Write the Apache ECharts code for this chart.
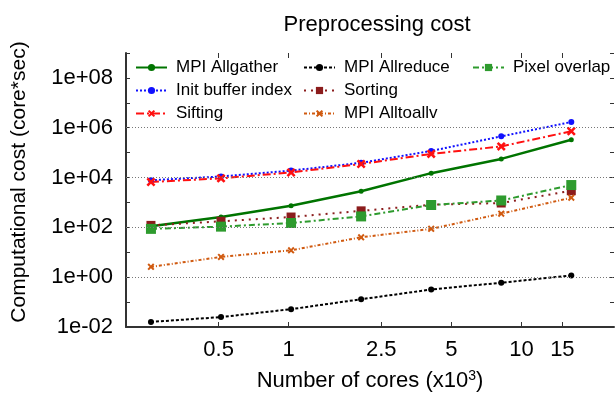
<!DOCTYPE html>
<html>
<head>
<meta charset="utf-8">
<script src="https://cdn.jsdelivr.net/npm/echarts@6/dist/echarts.min.js"></script>
<style>
  html, body { margin: 0; padding: 0; background: #fff; }
  #chart { width: 616px; height: 399px; }
</style>
</head>
<body>
<div id="chart"></div>
<script>
// number of cores (x10^3)
var cores = [0.256, 0.512, 1.024, 2.048, 4.096, 8.192, 16.384]

// cost in core*sec
var mpiAllgather = [110, 260, 740, 2800, 15000, 56000, 330000]
var initBufferIndex = [7800, 11000, 19000, 39000, 117000, 450000, 1700000]
var sifting = [6600, 9300, 16000, 35000, 89000, 178000, 720000]
var mpiAllreduce = [0.016, 0.025, 0.052, 0.13, 0.32, 0.6, 1.17]
var sorting = [120, 175, 260, 460, 810, 950, 2950]
var mpiAlltoallv = [2.6, 6.5, 12, 40, 87, 355, 1550]
var pixelOverlap = [87, 107, 150, 275, 790, 1200, 5000]

var xTicks = [0.5, 1, 2.5, 5, 10, 15]
var yTicks = [1e-2, 1e-1, 1, 1e1, 1e2, 1e3, 1e4, 1e5, 1e6, 1e7, 1e8, 1e9]
var yLabels = [1e-2, 1, 1e2, 1e4, 1e6, 1e8]
var yGrid = [1, 1e2, 1e4, 1e6]

var FONT = 'Liberation Sans, Arial, sans-serif'
var crossIcon = 'path://M0,2 L2,0 L5,3 L8,0 L10,2 L7,5 L10,8 L8,10 L5,7 L2,10 L0,8 L3,5 Z'

function pairs (ys) {
  var out = []
  for (var i = 0; i < cores.length; i++) {
    out.push([cores[i], ys[i]])
  }
  return out
}

function yLabelFmt (v) {
  var e = Math.round(Math.log10(v))
  var s = Math.abs(e) < 10 ? '0' + Math.abs(e) : '' + Math.abs(e)
  return '1e' + (e < 0 ? '-' : '+') + s
}

function line (name, ys, color, width, dash, symbol, size) {
  return {
    name: name,
    type: 'line',
    data: pairs(ys),
    symbol: symbol,
    symbolSize: size,
    showSymbol: true,
    itemStyle: { color: color },
    lineStyle: { color: color, width: width, type: dash },
    z: 3
  }
}

var series = [
  line('MPI Allgather', mpiAllgather, '#007400', 2.5, 'solid', 'circle', 5),
  line('Init buffer index', initBufferIndex, '#1010ff', 2, [2, 2], 'circle', 6),
  line('Sifting', sifting, '#ff1010', 2, [8, 3, 2, 3], crossIcon, 9),
  line('MPI Allreduce', mpiAllreduce, '#000000', 2, [3, 2], 'circle', 6),
  line('Sorting', sorting, '#8b1c1c', 2, [2, 5], 'rect', 9),
  line('MPI Alltoallv', mpiAlltoallv, '#d05a10', 2, [3, 2, 1, 2], crossIcon, 7),
  line('Pixel overlap', pixelOverlap, '#2e9b2e', 2, [6, 3, 2, 3], 'rect', 10)
]

// dotted horizontal grid lines at the labelled decades
series[0].markLine = {
  silent: true,
  symbol: 'none',
  label: { show: false },
  lineStyle: { color: '#777', width: 1, type: [1, 2] },
  data: yGrid.map(function (v) { return { yAxis: v } })
}

function legendCol (left, names) {
  return {
    orient: 'vertical',
    left: left,
    top: 54,
    itemWidth: 31,
    itemHeight: 9,
    itemGap: 6,
    selectedMode: false,
    data: names,
    textStyle: { fontFamily: FONT, fontSize: 17, color: '#000', padding: [0, 0, 0, 4] }
  }
}

var option = {
  backgroundColor: '#fff',
  animation: false,
  title: {
    text: 'Preprocessing cost',
    left: 372,
    top: 9,
    textAlign: 'center',
    textStyle: { fontFamily: FONT, fontSize: 22, fontWeight: 'normal', color: '#000' }
  },
  legend: [
    legendCol(130, ['MPI Allgather', 'Init buffer index', 'Sifting']),
    legendCol(298, ['MPI Allreduce', 'Sorting', 'MPI Alltoallv']),
    legendCol(467, ['Pixel overlap'])
  ],
  grid: { left: 126, right: 2, top: 53, bottom: 72 },
  xAxis: [
    {
      type: 'log',
      logBase: 10,
      min: 0.2,
      max: 25,
      name: 'Number of cores (x10{sup|3})',
      nameLocation: 'middle',
      nameGap: 42,
      nameTextStyle: {
        fontFamily: FONT, fontSize: 22, color: '#000',
        rich: { sup: { fontFamily: FONT, fontSize: 14, verticalAlign: 'top', padding: [0, 0, 10, 0], color: '#000' } }
      },
      axisLine: { show: true, lineStyle: { color: '#333', width: 2 } },
      axisTick: { show: true, inside: true, length: 5, customValues: xTicks, lineStyle: { color: '#333' } },
      axisLabel: { customValues: xTicks, margin: 12, fontFamily: FONT, fontSize: 22, color: '#000' },
      splitLine: { show: false },
      minorTick: { show: false }
    },
    {
      type: 'log',
      logBase: 10,
      min: 0.2,
      max: 25,
      position: 'top',
      axisLine: { show: false },
      axisTick: { show: true, inside: true, length: 5, customValues: xTicks, lineStyle: { color: '#333' } },
      axisLabel: { show: false },
      splitLine: { show: false }
    }
  ],
  yAxis: [
    {
      type: 'log',
      logBase: 10,
      min: 1e-2,
      max: 1e9,
      name: 'Computational cost (core*sec)',
      nameLocation: 'middle',
      nameGap: 96,
      nameTextStyle: { fontFamily: FONT, fontSize: 21, color: '#000', padding: [0, 0, 0, 16] },
      axisLine: { show: true, lineStyle: { color: '#333', width: 2 } },
      axisTick: { show: true, inside: true, length: 4, customValues: yTicks, lineStyle: { color: '#333' } },
      axisLabel: { customValues: yLabels, margin: 13, fontFamily: FONT, fontSize: 22, color: '#000', formatter: yLabelFmt },
      splitLine: { show: false }
    },
    {
      type: 'log',
      logBase: 10,
      min: 1e-2,
      max: 1e9,
      position: 'right',
      axisLine: { show: false },
      axisTick: { show: true, inside: true, length: 4, customValues: yTicks, lineStyle: { color: '#333' } },
      axisLabel: { show: false },
      splitLine: { show: false }
    }
  ],
  series: series
}

var myChart = echarts.init(document.getElementById('chart'))
myChart.setOption(option)
</script>
</body>
</html>
